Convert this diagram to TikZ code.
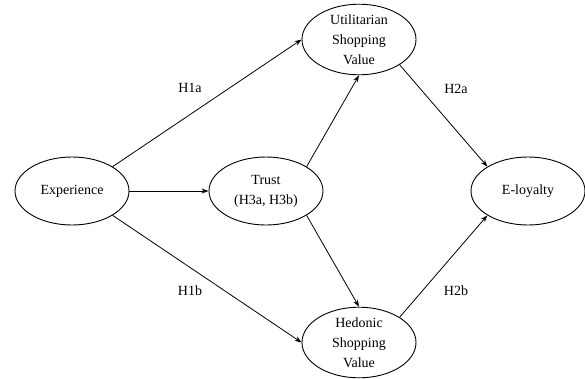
\documentclass[tikz,border=0pt]{standalone}
\usepackage{fontspec}
\setmainfont{Liberation Serif}
\usetikzlibrary{shapes.geometric,arrows.meta}
\begin{document}
\begin{tikzpicture}[x=1pt,y=-1pt,
  construct/.style={ellipse,draw,line width=0.9pt,inner sep=0pt,minimum width=114pt,minimum height=68pt,align=center,font=\fontsize{14}{20}\selectfont},
  path/.style={draw,line width=0.8pt,-{Stealth[length=7pt,width=5pt]}},
  hlabel/.style={font=\fontsize{14}{16}\selectfont}]
\useasboundingbox (0,0) rectangle (585,378);
\node[construct] (exp) at (72,191) {Experience};
\node[construct] (trust) at (266,191) {Trust\\(H3a, H3b)};
\node[construct,minimum height=67pt] (util) at (359,39.5) {Utilitarian\\Shopping\\Value};
\node[construct,minimum height=69pt] (hed) at (359,342.5) {Hedonic\\Shopping\\Value};
\node[construct] (loy) at (528,191) {E-loyalty};
\draw[path] (exp.north east) -- (util.west);
\draw[path] (exp.east) -- (trust.west);
\draw[path] (exp.south east) -- (hed.west);
\draw[path] (trust.north east) -- (util.south);
\draw[path] (trust.south east) -- (hed.north);
\draw[path] (util.south east) -- (loy.north west);
\draw[path] (hed.north east) -- (loy.south west);
\node[hlabel] (h1a) at (190,88) {H1a};
\node[hlabel] (h1b) at (190,291) {H1b};
\node[hlabel] (h2a) at (456,89) {H2a};
\node[hlabel] (h2b) at (456,291) {H2b};
\end{tikzpicture}
\end{document}
